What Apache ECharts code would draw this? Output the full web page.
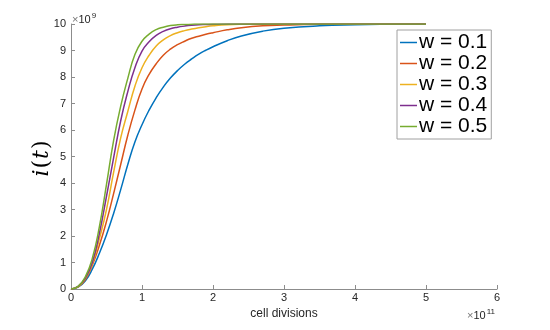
<!DOCTYPE html>
<html>
<head>
<meta charset="utf-8">
<title>i(t) vs cell divisions</title>
<script src="https://cdn.jsdelivr.net/npm/echarts@6/dist/echarts.min.js"></script>
<style>
    html, body { margin: 0; padding: 0; background: #fff; }
    #main { width: 550px; height: 330px; }
</style>
</head>
<body>
<div id="main"></div>
<script type="text/javascript">
// x in units of 1e11 cell divisions, y in units of 1e9
var xs = [0, 0.1, 0.2, 0.3, 0.4, 0.5, 0.6, 0.7, 0.8, 0.9, 1.0, 1.1, 1.2, 1.3, 1.4, 1.5, 1.6, 1.7, 1.8, 1.9, 2.0, 2.2, 2.4, 2.7, 3.0, 3.5, 4.0, 4.5, 5.0];

var w01 = [0, 0.07, 0.3, 0.75, 1.35, 2.05, 2.85, 3.75, 4.7, 5.55, 6.2, 6.75, 7.22, 7.62, 7.96, 8.24, 8.48, 8.68, 8.86, 9.01, 9.14, 9.37, 9.55, 9.73, 9.84, 9.93, 9.97, 9.99, 10];
var w02 = [0, 0.08, 0.35, 0.9, 1.65, 2.55, 3.6, 4.7, 5.8, 6.75, 7.55, 8.1, 8.5, 8.82, 9.05, 9.22, 9.35, 9.46, 9.54, 9.61, 9.67, 9.78, 9.86, 9.93, 9.96, 9.99, 10, 10, 10];
var w03 = [0, 0.09, 0.38, 0.95, 1.9, 3.0, 4.4, 5.7, 6.7, 7.65, 8.35, 8.82, 9.17, 9.4, 9.56, 9.67, 9.75, 9.81, 9.86, 9.9, 9.93, 9.97, 9.99, 10, 10, 10, 10, 10, 10];
var w04 = [0, 0.1, 0.4, 1.0, 2.1, 3.5, 4.95, 6.35, 7.45, 8.35, 8.98, 9.33, 9.57, 9.72, 9.82, 9.88, 9.92, 9.95, 9.97, 9.98, 9.99, 10, 10, 10, 10, 10, 10, 10, 10];
var w05 = [0, 0.1, 0.45, 1.15, 2.35, 3.95, 5.6, 6.9, 7.95, 8.85, 9.35, 9.62, 9.79, 9.88, 9.94, 9.97, 9.98, 9.99, 10, 10, 10, 10, 10, 10, 10, 10, 10, 10, 10];

var names = ['w = 0.1', 'w = 0.2', 'w = 0.3', 'w = 0.4', 'w = 0.5'];
var colors = ['#0072BD', '#D95319', '#EDB120', '#7E2F8E', '#77AC30'];
var yTicks = [0, 1, 2, 3, 4, 5, 6, 7, 8, 9, 10];
var xTicks = [0, 1, 2, 3, 4, 5, 6];

function pairs(ys) {
    var out = [];
    for (var i = 0; i < xs.length; i++) {
        out.push([xs[i], ys[i]]);
    }
    return out;
}

var allY = [w01, w02, w03, w04, w05];
var series = [];
for (var k = 0; k < allY.length; k++) {
    series.push({
        name: names[k],
        type: 'line',
        data: pairs(allY[k]),
        smooth: 0.5,
        showSymbol: false,
        symbol: 'none',
        lineStyle: { color: colors[k], width: 1.5 },
        itemStyle: { color: colors[k] },
        animation: false
    });
}

var axisGray = '#8c8c8c';
var labelGray = '#262626';
var font = 'Liberation Sans, Arial, Helvetica, sans-serif';

var myChart = echarts.init(document.getElementById('main'), null, { renderer: 'canvas' });

var option = {
    backgroundColor: '#fff',
    animation: false,
    grid: { left: 71, right: 53, top: 24, bottom: 41 },
    legend: {
        orient: 'vertical',
        left: 397,
        top: 30,
        data: names,
        icon: 'rect',
        itemWidth: 17,
        itemHeight: 1.5,
        itemGap: 0,
        padding: [2, 4, 2, 3],
        borderColor: '#a0a0a0',
        borderWidth: 1,
        backgroundColor: '#fff',
        textStyle: { fontSize: 21, color: '#000', fontFamily: font, padding: [0, 0, 0, -3] }
    },
    xAxis: {
        type: 'value',
        min: xTicks[0],
        max: xTicks[xTicks.length - 1],
        interval: 1,
        name: 'cell divisions',
        nameLocation: 'middle',
        nameGap: 10,
        nameTextStyle: { fontSize: 12, color: labelGray, fontFamily: font },
        axisLine: { lineStyle: { color: axisGray, width: 1 } },
        axisTick: { inside: true, length: 4, lineStyle: { color: axisGray } },
        axisLabel: { fontSize: 11, color: labelGray, fontFamily: font, margin: 3 },
        splitLine: { show: false }
    },
    yAxis: {
        type: 'value',
        min: yTicks[0],
        max: yTicks[yTicks.length - 1],
        interval: 1,
        axisLine: { show: true, lineStyle: { color: axisGray, width: 1 } },
        axisTick: { show: true, inside: true, length: 4, lineStyle: { color: axisGray } },
        axisLabel: { fontSize: 11, color: labelGray, fontFamily: font, margin: 5 },
        splitLine: { show: false }
    },
    graphic: [
        {
            type: 'text',
            left: 72,
            top: 12,
            style: {
                text: '{x|\u00d7}{b|10}{s|9}',
                rich: {
                    x: { fontSize: 11, fill: '#777', fontFamily: font },
                    b: { fontSize: 11, fill: labelGray, fontFamily: font },
                    s: { fontSize: 8, fill: labelGray, fontFamily: font, verticalAlign: 'top', padding: [0, 0, 7, 1] }
                }
            }
        },
        {
            type: 'text',
            left: 467,
            top: 308,
            style: {
                text: '{x|\u00d7}{b|10}{s|11}',
                rich: {
                    x: { fontSize: 11, fill: '#777', fontFamily: font },
                    b: { fontSize: 11, fill: labelGray, fontFamily: font },
                    s: { fontSize: 8, fill: labelGray, fontFamily: font, verticalAlign: 'top', padding: [0, 0, 7, 1] }
                }
            }
        },
        {
            type: 'text',
            x: 42,
            y: 159,
            rotation: Math.PI / 2,
            style: {
                text: '{i|i}{p|(}{i|t}{p|)}',
                align: 'center',
                verticalAlign: 'middle',
                rich: {
                    i: { fontSize: 22, fill: '#000', fontStyle: 'italic', fontFamily: 'DejaVu Serif, Liberation Serif, serif', padding: [0, 1, 0, 1] },
                    p: { fontSize: 22, fill: '#000', fontFamily: 'DejaVu Serif, Liberation Serif, serif' }
                }
            }
        }
    ],
    series: series
};

myChart.setOption(option);
</script>
</body>
</html>
